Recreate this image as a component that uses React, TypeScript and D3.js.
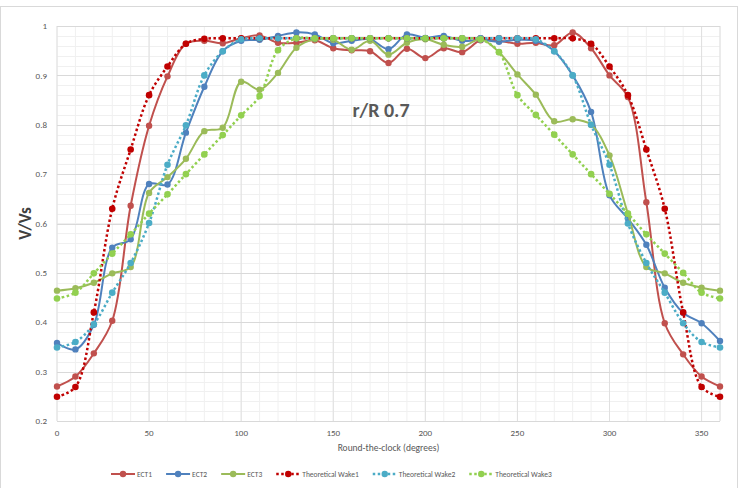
import React, { useEffect, useRef } from 'react';
import * as d3 from 'd3';

// round-the-clock angle, every 10 degrees
const angles = d3.range(0, 361, 10);

const ect1 = [0.27, 0.29, 0.337, 0.403, 0.636, 0.798, 0.898, 0.964, 0.97, 0.965, 0.975, 0.981, 0.966, 0.966, 0.971, 0.955, 0.951, 0.949, 0.925, 0.954, 0.935, 0.955, 0.947, 0.971, 0.97, 0.964, 0.966, 0.961, 0.987, 0.955, 0.9, 0.856, 0.643, 0.398, 0.335, 0.29, 0.27];
const ect2 = [0.358, 0.345, 0.395, 0.551, 0.568, 0.68, 0.679, 0.784, 0.877, 0.949, 0.97, 0.972, 0.98, 0.987, 0.983, 0.965, 0.97, 0.973, 0.953, 0.983, 0.976, 0.98, 0.97, 0.972, 0.968, 0.972, 0.97, 0.949, 0.9, 0.826, 0.657, 0.61, 0.557, 0.47, 0.419, 0.398, 0.362];
const ect3 = [0.464, 0.469, 0.48, 0.499, 0.512, 0.662, 0.694, 0.731, 0.787, 0.794, 0.887, 0.871, 0.905, 0.956, 0.973, 0.972, 0.952, 0.97, 0.942, 0.966, 0.973, 0.962, 0.958, 0.973, 0.947, 0.902, 0.861, 0.807, 0.811, 0.8, 0.738, 0.62, 0.512, 0.499, 0.48, 0.47, 0.464];
const wake1 = [0.249, 0.269, 0.42, 0.63, 0.75, 0.86, 0.918, 0.964, 0.974, 0.975, 0.975, 0.975, 0.975, 0.975, 0.975, 0.975, 0.975, 0.975, 0.975, 0.975, 0.975, 0.975, 0.975, 0.975, 0.975, 0.975, 0.975, 0.975, 0.975, 0.964, 0.918, 0.86, 0.75, 0.63, 0.42, 0.269, 0.249];
const wake2 = [0.349, 0.36, 0.396, 0.46, 0.52, 0.601, 0.719, 0.799, 0.9, 0.949, 0.973, 0.975, 0.975, 0.975, 0.975, 0.975, 0.975, 0.975, 0.975, 0.975, 0.975, 0.975, 0.975, 0.975, 0.975, 0.975, 0.973, 0.949, 0.9, 0.8, 0.719, 0.6, 0.52, 0.46, 0.398, 0.36, 0.349];
const wake3 = [0.448, 0.46, 0.499, 0.539, 0.578, 0.62, 0.659, 0.7, 0.74, 0.779, 0.819, 0.858, 0.951, 0.975, 0.975, 0.975, 0.975, 0.975, 0.975, 0.975, 0.975, 0.975, 0.975, 0.973, 0.947, 0.86, 0.82, 0.78, 0.74, 0.7, 0.66, 0.62, 0.578, 0.539, 0.5, 0.46, 0.448];

const seriesNames = ['ECT1', 'ECT2', 'ECT3', 'Theoretical Wake1', 'Theoretical Wake2', 'Theoretical Wake3'];
const seriesValues = [ect1, ect2, ect3, wake1, wake2, wake3];
const seriesColors = ['#C0504D', '#4F81BD', '#9BBB59', '#C00000', '#4BACC6', '#92D050'];
const seriesDotted = [false, false, false, true, true, true];

const xTicks = [0, 50, 100, 150, 200, 250, 300, 350];
const yTicks = [0.2, 0.3, 0.4, 0.5, 0.6, 0.7, 0.8, 0.9, 1];

const App: React.FC = () => {
  const svgRef = useRef<SVGSVGElement>(null);

  useEffect(() => {
    const svg = d3.select(svgRef.current);
    svg.selectAll('*').remove();

    const width = 743;
    const height = 488;
    const margin = { top: 26, right: 23, bottom: 67, left: 57 };
    const innerWidth = width - margin.left - margin.right;
    const innerHeight = height - margin.top - margin.bottom;
    const font = 'Calibri, Carlito, "Open Sans", sans-serif';

    svg.attr('width', width).attr('height', height);

    // chart frame
    svg.append('rect')
      .attr('x', 0.5)
      .attr('y', 6.5)
      .attr('width', 737)
      .attr('height', 490)
      .style('fill', 'white')
      .style('stroke', '#d9d9d9')
      .style('stroke-width', 1);

    const xScale = d3.scaleLinear().domain([0, 360]).range([0, innerWidth]);
    const yScale = d3.scaleLinear().domain([0.2, 1]).range([innerHeight, 0]);

    const g = svg.append('g')
      .attr('transform', `translate(${margin.left},${margin.top})`);

    // minor grid
    g.append('g')
      .selectAll('line')
      .data(d3.range(0, 361, 10))
      .enter().append('line')
      .attr('x1', d => xScale(d)).attr('x2', d => xScale(d))
      .attr('y1', 0).attr('y2', innerHeight)
      .style('stroke', '#f0f0f0');

    g.append('g')
      .selectAll('line')
      .data(d3.range(0.2, 1.001, 0.02))
      .enter().append('line')
      .attr('x1', 0).attr('x2', innerWidth)
      .attr('y1', d => Math.round(yScale(d)) + 0.5).attr('y2', d => Math.round(yScale(d)) + 0.5)
      .style('stroke', '#f0f0f0');

    // major grid
    g.append('g')
      .selectAll('line')
      .data(xTicks.concat([360]))
      .enter().append('line')
      .attr('x1', d => xScale(d)).attr('x2', d => xScale(d))
      .attr('y1', 0).attr('y2', innerHeight)
      .style('stroke', '#e0e0e0');

    g.append('g')
      .selectAll('line')
      .data(yTicks)
      .enter().append('line')
      .attr('x1', 0).attr('x2', innerWidth)
      .attr('y1', d => Math.round(yScale(d)) + 0.5).attr('y2', d => Math.round(yScale(d)) + 0.5)
      .style('stroke', '#d9d9d9');

    // tick labels
    g.append('g')
      .selectAll('text')
      .data(yTicks)
      .enter().append('text')
      .attr('x', -10)
      .attr('y', d => yScale(d))
      .attr('dy', '0.35em')
      .attr('text-anchor', 'end')
      .style('font-family', font)
      .style('font-size', '9px')
      .style('fill', '#595959')
      .text(d => d3.format('~g')(d));

    g.append('g')
      .selectAll('text')
      .data(xTicks)
      .enter().append('text')
      .attr('x', d => xScale(d))
      .attr('y', innerHeight + 15)
      .attr('text-anchor', 'middle')
      .style('font-family', font)
      .style('font-size', '9px')
      .style('fill', '#595959')
      .text(d => d);

    // axis titles
    g.append('text')
      .attr('x', innerWidth / 2)
      .attr('y', innerHeight + 30)
      .attr('text-anchor', 'middle')
      .style('font-family', font)
      .style('font-size', '9.5px')
      .style('fill', '#595959')
      .text('Round-the-clock (degrees)');

    svg.append('text')
      .attr('transform', `translate(31,${margin.top + innerHeight / 2}) rotate(-90)`)
      .attr('text-anchor', 'middle')
      .style('font-family', font)
      .style('font-size', '17px')
      .style('font-weight', 'bold')
      .style('fill', '#404040')
      .text('V/Vs');

    // title inside plot
    svg.append('text')
      .attr('x', 381)
      .attr('y', 117)
      .attr('text-anchor', 'middle')
      .style('font-family', font)
      .style('font-size', '20px')
      .style('font-weight', 'bold')
      .style('fill', '#595959')
      .text('r/R 0.7');

    // series
    const line = d3.line<number>()
      .x((d, i) => xScale(angles[i]))
      .y(d => yScale(d))
      .curve(d3.curveCatmullRom.alpha(0.5));

    seriesValues.forEach((values, s) => {
      const sg = g.append('g');
      sg.append('path')
        .datum(values)
        .attr('d', line)
        .style('fill', 'none')
        .style('stroke', seriesColors[s])
        .style('stroke-width', seriesDotted[s] ? 2.5 : 2)
        .style('stroke-dasharray', seriesDotted[s] ? '2.5,2.5' : null);

      sg.selectAll('circle')
        .data(values)
        .enter().append('circle')
        .attr('cx', (d, i) => xScale(angles[i]))
        .attr('cy', d => yScale(d))
        .attr('r', seriesDotted[s] ? 3.3 : 3.2)
        .style('fill', seriesColors[s]);
    });

    // legend
    const legend = svg.append('g')
      .attr('transform', `translate(111, 474)`);
    let lx = 0;
    seriesNames.forEach((name, s) => {
      const item = legend.append('g').attr('transform', `translate(${lx},0)`);
      item.append('line')
        .attr('x1', 0).attr('x2', 24)
        .attr('y1', 0).attr('y2', 0)
        .style('stroke', seriesColors[s])
        .style('stroke-width', seriesDotted[s] ? 2.5 : 2)
        .style('stroke-dasharray', seriesDotted[s] ? '2.5,2.5' : null);
      item.append('circle')
        .attr('cx', 12).attr('cy', 0)
        .attr('r', 3.2)
        .style('fill', seriesColors[s]);
      const t = item.append('text')
        .attr('x', 26)
        .attr('dy', '0.35em')
        .style('font-family', font)
        .style('font-size', '7.5px')
        .style('fill', '#595959')
        .text(name);
      const tw = (t.node() as SVGTextElement).getComputedTextLength();
      lx += 26 + tw + 14;
    });
  }, []);

  return (
    <div style={{ position: 'absolute', left: 0, top: 0 }}>
      <svg ref={svgRef}></svg>
    </div>
  );
};

export default App;
